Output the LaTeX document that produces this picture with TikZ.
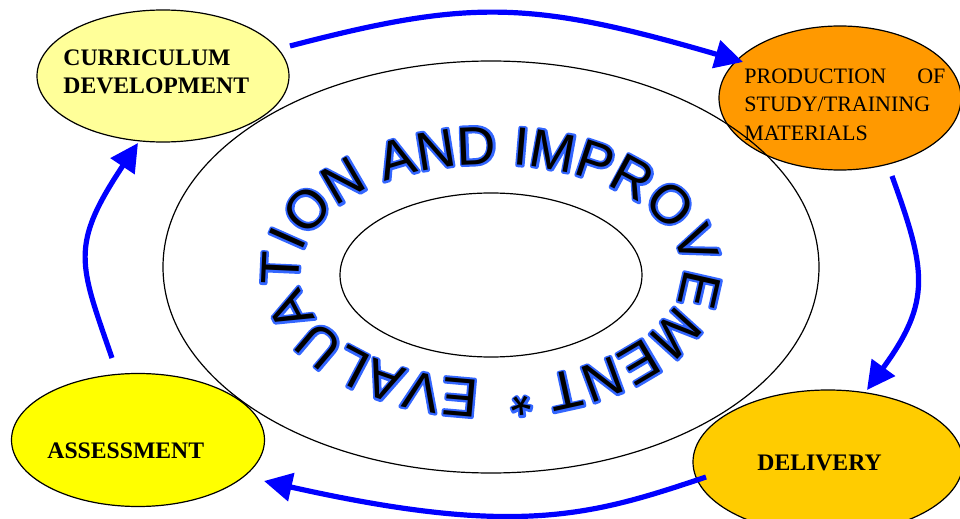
\documentclass[tikz,border=0pt]{standalone}
\usepackage{fontspec}
\setmainfont{Liberation Serif}
\newfontfamily\ringfont{Liberation Sans}
\newfontfamily\ringfontbold[FakeBold=8]{Liberation Sans}
\usetikzlibrary{shapes.geometric,arrows.meta,decorations.text}
\definecolor{curfill}{HTML}{FFFF99}
\definecolor{prodfill}{HTML}{FF9900}
\definecolor{assfill}{HTML}{FFFF00}
\definecolor{delfill}{HTML}{FFCC00}
\definecolor{arrowblue}{HTML}{0000FF}
\definecolor{ringblue}{HTML}{3366FF}
\newcommand{\ringblueformat}{\ringfontbold\fontsize{27}{27}\selectfont\color{ringblue}\special{pdf:literal direct 1 j 1 J}}
\newcommand{\ringblackformat}{\ringfont\fontsize{27}{27}\selectfont\color{black}}
\begin{document}
\begin{tikzpicture}[x=0.5pt,y=0.5pt,
  blob/.style={ellipse, draw=black, line width=0.6pt, inner sep=0pt},
  ringshape/.style={ellipse, draw=black, line width=0.6pt, inner sep=0pt},
  flow/.style={draw=arrowblue, line width=2.6pt, -{Triangle[length=14pt,width=14pt]}},
  lbl/.style={inner sep=0pt, anchor=base west, font=\bfseries\fontsize{11.85}{13.8}\selectfont},
  ptxt/.style={inner sep=0pt, anchor=base west, font=\fontsize{11}{14}\selectfont},
]
\useasboundingbox (0,0) rectangle (960,-519);
\clip (0,0) rectangle (960,-519);

% coloured ellipses
\node[blob, fill=curfill, minimum width=126pt, minimum height=66pt] (cur) at (163,-76) {};
\node[blob, fill=prodfill, minimum width=121pt, minimum height=72pt] (prod) at (840,-98) {};
\node[blob, fill=assfill, minimum width=126.5pt, minimum height=66.5pt] (ass) at (138,-440) {};
\node[blob, fill=delfill, minimum width=135pt, minimum height=72pt] (del) at (828,-462) {};

% central rings
\node[ringshape, minimum width=328pt, minimum height=206pt] (outer) at (491,-267) {};
\node[ringshape, minimum width=151pt, minimum height=82pt] (inner) at (491,-275) {};

% ring text: blue outline pass then black pass
\path[decorate, decoration={text along path, text align={fit to path},
    text={|\ringblueformat|EVALUATION AND IMPROVEMENT *}}]
  (491,-272) ++(266.5:192 and 108) arc[start angle=266.5, end angle=-84.7, x radius=192, y radius=108];
\path[decorate, decoration={text along path, text align={fit to path},
    text={|\ringblackformat|EVALUATION AND IMPROVEMENT *}}]
  (491,-272) ++(266.5:192 and 108) arc[start angle=266.5, end angle=-84.7, x radius=192, y radius=108];

% labels
\node[lbl] (cur1) at (63,-65.7) {CURRICULUM};
\node[lbl] (cur2) at (63,-93.3) {DEVELOPMENT};
\node[ptxt] (prod1) at (744,-83.3) {\hbox to 100.5pt{PRODUCTION\hfill OF}};
\node[ptxt] (prod2) at (744,-111.7) {STUDY/TRAINING};
\node[ptxt] (prod3) at (744,-140.7) {MATERIALS};
\node[lbl] (asstxt) at (47,-458.3) {ASSESSMENT};
\node[lbl] (deltxt) at (757,-470.7) {DELIVERY};

% arrow end points
\coordinate (a1s) at (290,-46);
\coordinate (a1e) at (743,-62);
\coordinate (a2s) at (892,-176);
\coordinate (a2e) at (867,-390);
\coordinate (a3s) at (706,-477);
\coordinate (a3e) at (264,-481);
\coordinate (a4s) at (112,-358);
\coordinate (a4e) at (138,-143);

\draw[flow] (a1s) .. controls (470,1) and (530,0) .. (a1e);
\draw[flow] (a2s) .. controls (926,-270) and (932,-301) .. (a2e);
\draw[flow] (a3s) .. controls (592,-515.3) and (518,-538) .. (a3e);
\draw[flow] (a4s) .. controls (79.4,-263.5) and (69.2,-246.2) .. (a4e);
\end{tikzpicture}
\end{document}
